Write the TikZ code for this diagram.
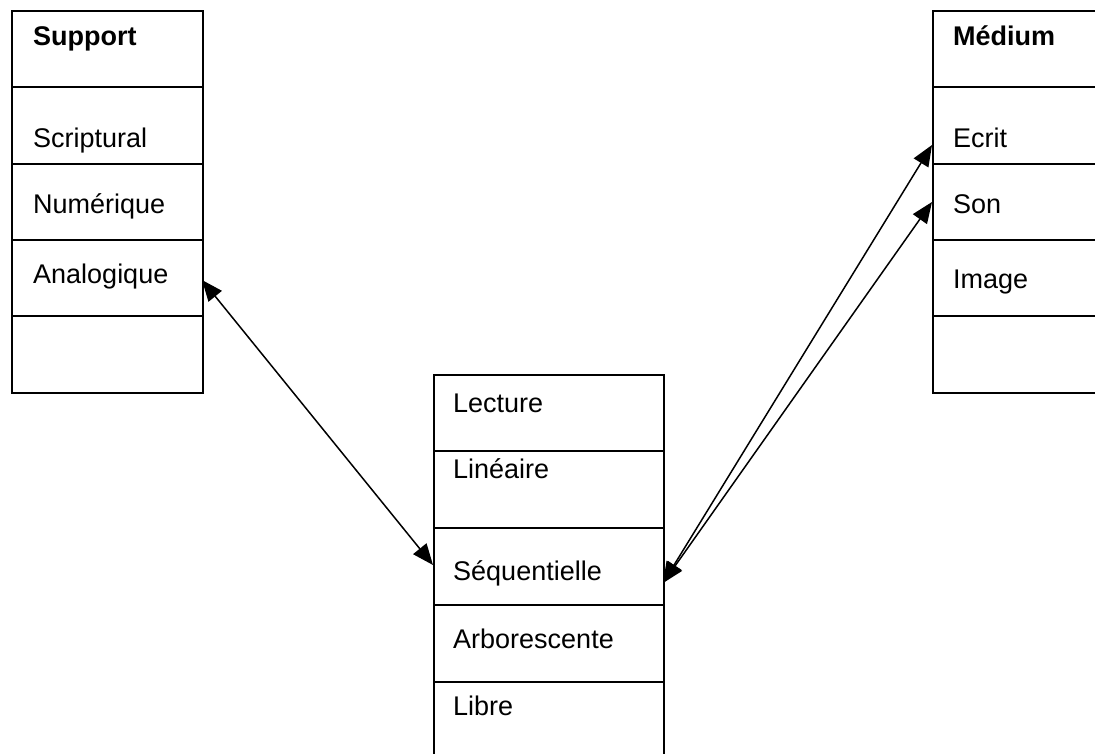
\documentclass[tikz,border=0pt]{standalone}
\usepackage{fontspec}
\setmainfont{Liberation Sans}
\usetikzlibrary{arrows.meta}
\begin{document}
\begin{tikzpicture}[x=1pt,y=-1pt,
  cell/.style={draw, rectangle, line width=1.6pt, inner sep=0pt, anchor=north west},
  lbl/.style={anchor=base west, inner sep=0pt, font=\fontsize{27}{32}\selectfont},
  conn/.style={line width=1.5pt, {Triangle[length=21pt,width=17pt]}-{Triangle[length=21pt,width=17pt]}}]
\useasboundingbox (0,0) rectangle (1095,753);
\clip (0,0) rectangle (1095,753);
% Support box
\node[cell, minimum width=191pt, minimum height=76pt] (s0) at (11,10) {};
\node[cell, minimum width=191pt, minimum height=77pt] (s1) at (11,86) {};
\node[cell, minimum width=191pt, minimum height=76pt] (s2) at (11,163) {};
\node[cell, minimum width=191pt, minimum height=76pt] (s3) at (11,239) {};
\node[cell, minimum width=191pt, minimum height=77pt] (s4) at (11,315) {};
\node[lbl, font=\fontsize{27}{32}\selectfont\bfseries] (ts0) at (33,45) {Support};
\node[lbl] (ts1) at (33,147) {Scriptural};
\node[lbl] (ts2) at (33,213) {Numérique};
\node[lbl] (ts3) at (33,283) {Analogique};
% Medium box
\node[cell, minimum width=200pt, minimum height=76pt] (r0) at (932,10) {};
\node[cell, minimum width=200pt, minimum height=77pt] (r1) at (932,86) {};
\node[cell, minimum width=200pt, minimum height=76pt] (r2) at (932,163) {};
\node[cell, minimum width=200pt, minimum height=76pt] (r3) at (932,239) {};
\node[cell, minimum width=200pt, minimum height=77pt] (r4) at (932,315) {};
\node[lbl, font=\fontsize{27}{32}\selectfont\bfseries] (tr0) at (953,45) {Médium};
\node[lbl] (tr1) at (953,147) {Ecrit};
\node[lbl] (tr2) at (953,213) {Son};
\node[lbl] (tr3) at (953,288) {Image};
% Lecture box
\node[cell, minimum width=230pt, minimum height=76pt] (m0) at (433,374) {};
\node[cell, minimum width=230pt, minimum height=77pt] (m1) at (433,450) {};
\node[cell, minimum width=230pt, minimum height=77pt] (m2) at (433,527) {};
\node[cell, minimum width=230pt, minimum height=77pt] (m3) at (433,604) {};
\node[cell, minimum width=230pt, minimum height=100pt] (m4) at (433,681) {};
\node[lbl] (tm0) at (453,412) {Lecture};
\node[lbl] (tm1) at (453,478) {Linéaire};
\node[lbl] (tm2) at (453,580) {Séquentielle};
\node[lbl] (tm3) at (453,648) {Arborescente};
\node[lbl] (tm4) at (453,715) {Libre};
% connector ends
\coordinate (pA) at (202,280);
\coordinate (pB) at (433,565);
\coordinate (pC) at (663,583);
\coordinate (pD) at (932,145);
\coordinate (pE) at (932,202);
\draw[conn] (pA) -- (pB);
\draw[conn] (pC) -- (pD);
\draw[conn] (pC) -- (pE);
\end{tikzpicture}
\end{document}
